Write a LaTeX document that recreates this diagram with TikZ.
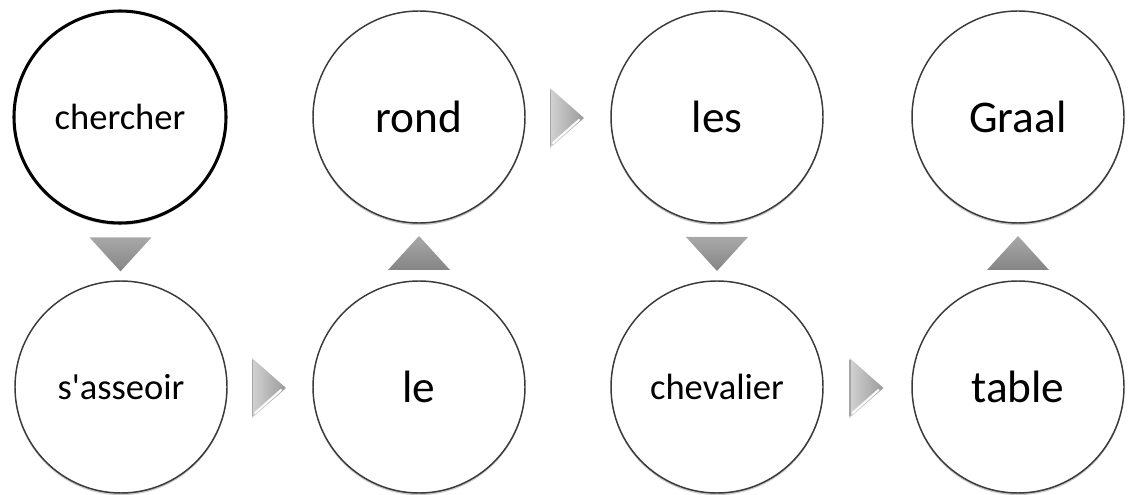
\documentclass[tikz,border=0pt]{standalone}
\usepackage{fontspec}
\newfontfamily\wordfont{Carlito}
\usetikzlibrary{calc,shadows}
\definecolor{ringcol}{HTML}{3A3A3A}
\definecolor{arrtop}{HTML}{A8A8A8}
\definecolor{arrbot}{HTML}{858585}
\definecolor{harrL}{HTML}{D2D2D2}
\definecolor{harrR}{HTML}{9A9A9A}
\tikzset{
  word/.style={circle, draw=ringcol, line width=1.1pt, fill=white,
    minimum size=159pt, inner sep=0pt,
    drop shadow={shadow xshift=0pt, shadow yshift=-1.6pt, opacity=0.22, fill=black}},
  boldring/.style={draw=black, line width=2.3pt},
  bigtxt/.style={font=\wordfont\fontsize{34pt}{36pt}\selectfont},
  smalltxt/.style={font=\wordfont\fontsize{27.4pt}{30pt}\selectfont},
  varrow/.style={top color=arrtop, bottom color=arrbot, draw=none},
  harrow/.style={left color=harrL, right color=harrR, draw=none},
  hilite/.style={white, line width=1.6pt, line cap=round, opacity=0.95},
}
\begin{document}
\begin{tikzpicture}[x=0.75pt, y=-0.75pt]
\useasboundingbox (0,0) rectangle (1128,495);
\fill[white] (0,0) rectangle (1128,495);

\node[word, boldring, smalltxt] (n1) at (120,117) {chercher};
\node[word, smalltxt] (n2) at (121,387) {s'asseoir};
\node[word, bigtxt]   (n3) at (419,387) {le};
\node[word, bigtxt]   (n4) at (419,117) {rond};
\node[word, bigtxt]   (n5) at (717,117) {les};
\node[word, smalltxt] (n6) at (717,387) {chevalier};
\node[word, bigtxt]   (n7) at (1018,387) {table};
\node[word, bigtxt]   (n8) at (1018,117) {Graal};

% vertical arrows
\coordinate (d1) at ($(n1.south)!0.5!(n2.north)+(0,2)$);
\coordinate (d2) at ($(n3.north)!0.5!(n4.south)+(0,1)$);
\coordinate (d3) at ($(n5.south)!0.5!(n6.north)+(0,2)$);
\coordinate (d4) at ($(n7.north)!0.5!(n8.south)+(0,1)$);
\path[varrow] ([shift={(-31,-17)}]d1) -- ([shift={(31,-17)}]d1) -- ([shift={(0,17)}]d1) -- cycle;
\path[varrow] ([shift={(-31,17)}]d2) -- ([shift={(31,17)}]d2) -- ([shift={(0,-17)}]d2) -- cycle;
\path[varrow] ([shift={(-31,-17)}]d3) -- ([shift={(31,-17)}]d3) -- ([shift={(0,17)}]d3) -- cycle;
\path[varrow] ([shift={(-31,17)}]d4) -- ([shift={(31,17)}]d4) -- ([shift={(0,-17)}]d4) -- cycle;

% horizontal arrows
\coordinate (r1) at ($(n2.east)!0.5!(n3.west)+(-1,1)$);
\coordinate (r2) at ($(n4.east)!0.5!(n5.west)+(-1,1)$);
\coordinate (r3) at ($(n6.east)!0.5!(n7.west)+(-1,1)$);
\foreach \r in {r1,r2,r3}{
  \path[harrow] ([shift={(-17,-30)}]\r) -- ([shift={(17,0)}]\r) -- ([shift={(-17,30)}]\r) -- cycle;
  \draw[hilite] ([shift={(-14,25)}]\r) -- ([shift={(12,2)}]\r);
  \draw[gray!70, line width=0.8pt] ([shift={(-16.5,-28)}]\r) -- ([shift={(-16.5,28)}]\r);
}
\end{tikzpicture}
\end{document}
